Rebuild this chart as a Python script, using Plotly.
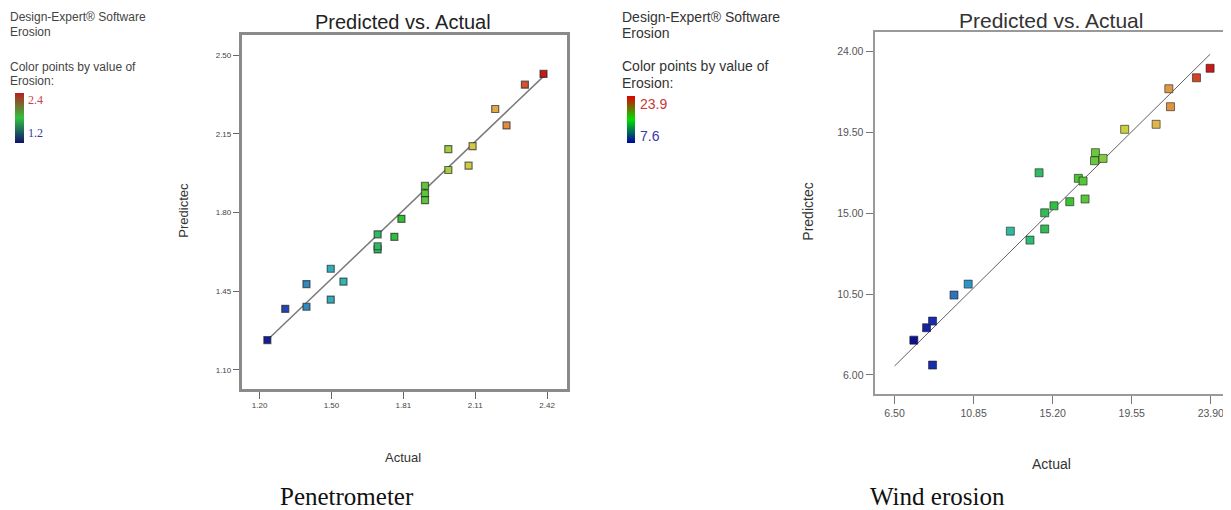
import plotly.graph_objects as go

# ---------------- data ----------------
pen_actual = [1.233, 1.309, 1.399, 1.399, 1.502, 1.502, 1.556, 1.701, 1.701, 1.701, 1.772, 1.802,
              1.902, 1.902, 1.902, 2.001, 2.001, 2.087, 2.104, 2.200, 2.248, 2.326, 2.405]
pen_pred = [1.233, 1.372, 1.482, 1.381, 1.550, 1.413, 1.493, 1.703, 1.636, 1.650, 1.692, 1.772,
            1.919, 1.885, 1.855, 2.082, 1.989, 2.008, 2.095, 2.260, 2.187, 2.368, 2.416]
pen_xticks = [1.20, 1.505, 1.81, 2.115, 2.42]
pen_xtext = ["1.20", "1.50", "1.81", "2.11", "2.42"]
pen_yticks = [1.10, 1.45, 1.80, 2.15, 2.50]
pen_ytext = ["1.10", "1.45", "1.80", "2.15", "2.50"]
pen_cmin, pen_cmax = 1.2, 2.4

wind_actual = [7.56, 8.26, 8.59, 8.59, 9.77, 10.55, 12.87, 13.95, 14.45, 14.76, 14.76, 15.27, 16.14,
               16.61, 16.87, 16.98, 17.55, 17.50, 17.97, 19.16, 20.89, 21.59, 21.68, 23.11, 23.86]
wind_pred = [7.94, 8.63, 9.00, 6.55, 10.45, 11.06, 14.01, 13.51, 17.26, 15.03, 14.13, 15.42, 15.65,
             16.95, 16.80, 15.80, 18.38, 17.93, 18.06, 19.68, 19.96, 21.94, 20.94, 22.55, 23.08]
wind_xticks = [6.50, 10.85, 15.20, 19.55, 23.90]
wind_xtext = ["6.50", "10.85", "15.20", "19.55", "23.90"]
wind_yticks = [6.00, 10.50, 15.00, 19.50, 24.00]
wind_ytext = ["6.00", "10.50", "15.00", "19.50", "24.00"]
wind_cmin, wind_cmax = 7.6, 23.9

point_scale = [[0.0, "#10108a"], [0.07, "#1a30b0"], [0.13, "#3070b8"], [0.2, "#30a0c8"],
               [0.3, "#30b8b0"], [0.4, "#30b870"], [0.5, "#30c030"], [0.62, "#70c840"],
               [0.7, "#c8d040"], [0.8, "#e0c050"], [0.87, "#e09040"], [1.0, "#c81818"]]
left_bar_scale = [[0.0, "#101070"], [0.5, "#30c040"], [1.0, "#b82020"]]
right_bar_scale = [[0.0, "#0000a8"], [0.5, "#00e000"], [1.0, "#e00000"]]

# page offset (body margin 8px) -> map reference pixel coords into figure coords
OFF = 8
W, H = 1231 - OFF, 510 - OFF
def px(x): return (x - OFF) / W
def py(y): return 1 - (y - OFF) / H

fig = go.Figure()

# fit lines (y = x)
pl = [min(pen_actual), max(pen_actual)]
fig.add_trace(go.Scatter(x=pl, y=pl, mode="lines", line=dict(color="#7a7a7a", width=1.5),
                         xaxis="x", yaxis="y", showlegend=False, hoverinfo="skip"))
wl = [wind_xticks[0], max(wind_actual)]
fig.add_trace(go.Scatter(x=wl, y=wl, mode="lines", line=dict(color="#606060", width=1),
                         xaxis="x2", yaxis="y2", showlegend=False, hoverinfo="skip"))

fig.add_trace(go.Scatter(x=pen_actual, y=pen_pred, mode="markers", xaxis="x", yaxis="y",
                         marker=dict(symbol="square", size=7, color=pen_actual, coloraxis="coloraxis",
                                     line=dict(color="rgba(30,30,30,0.65)", width=1.2)),
                         showlegend=False))
fig.add_trace(go.Scatter(x=wind_actual, y=wind_pred, mode="markers", xaxis="x2", yaxis="y2",
                         marker=dict(symbol="square", size=8, color=wind_actual, coloraxis="coloraxis2",
                                     line=dict(color="rgba(30,30,30,0.6)", width=1)),
                         showlegend=False))

# legend gradient bars (empty traces that only carry the colour range)
fig.add_trace(go.Scatter(x=[None, None], y=[None, None], mode="markers", xaxis="x", yaxis="y",
                         marker=dict(color=[pen_cmin, pen_cmax], coloraxis="coloraxis3"),
                         showlegend=False, hoverinfo="skip"))
fig.add_trace(go.Scatter(x=[None, None], y=[None, None], mode="markers", xaxis="x2", yaxis="y2",
                         marker=dict(color=[wind_cmin, wind_cmax], coloraxis="coloraxis4"),
                         showlegend=False, hoverinfo="skip"))

axis_common = dict(showgrid=False, zeroline=False, ticks="outside", mirror=True, showline=True)

def cbar(x, y, length, thick):
    return dict(x=px(x), xanchor="left", y=py(y), yanchor="middle",
                lenmode="pixels", len=length, thickness=thick, outlinewidth=0,
                showticklabels=False, ticks="", xpad=0, ypad=0)

fig.update_layout(
    width=W, height=H, margin=dict(l=0, r=0, t=0, b=0),
    paper_bgcolor="white", plot_bgcolor="white",
    font=dict(family="Liberation Sans, Arial, sans-serif", color="#333"),
    xaxis=dict(domain=[px(242), px(568)], range=[1.1238, 2.505], tickvals=pen_xticks, ticktext=pen_xtext,
               linecolor="#8a8a8a", linewidth=2.5, ticklen=7, tickcolor="#666", tickfont=dict(size=8, color="#444"),
               anchor="y", **axis_common),
    yaxis=dict(domain=[py(389), py(35)], range=[1.0155, 2.589], tickvals=pen_yticks, ticktext=pen_ytext,
               linecolor="#8a8a8a", linewidth=2.5, ticklen=6, tickcolor="#666", tickfont=dict(size=8, color="#444"),
               anchor="x", **axis_common),
    xaxis2=dict(domain=[px(876), 1.0], range=[5.40, 24.90], tickvals=wind_xticks, ticktext=wind_xtext,
                linecolor="#999999", linewidth=2, ticklen=8, tickcolor="#777", tickfont=dict(size=10.5, color="#555"),
                anchor="y2", **axis_common),
    yaxis2=dict(domain=[py(394), py(32)], range=[4.94, 25.10], tickvals=wind_yticks, ticktext=wind_ytext,
                linecolor="#999999", linewidth=2, ticklen=7, tickcolor="#777", tickfont=dict(size=10.5, color="#555"),
                anchor="x2", **axis_common),
    coloraxis=dict(cmin=pen_cmin, cmax=pen_cmax, colorscale=point_scale, showscale=False),
    coloraxis2=dict(cmin=wind_cmin, cmax=wind_cmax, colorscale=point_scale, showscale=False),
    coloraxis3=dict(cmin=pen_cmin, cmax=pen_cmax, colorscale=left_bar_scale, colorbar=cbar(15, 118, 50, 9)),
    coloraxis4=dict(cmin=wind_cmin, cmax=wind_cmax, colorscale=right_bar_scale, colorbar=cbar(628, 120, 47, 8)),
)

ann = []
def A(text, x, y, size, color="#333", xanchor="left", family=None, angle=0, yanchor="middle"):
    d = dict(text=text, x=px(x), y=py(y), xref="paper", yref="paper", showarrow=False,
             xanchor=xanchor, yanchor=yanchor, borderpad=0, font=dict(size=size, color=color), textangle=angle)
    if family:
        d["font"]["family"] = family
    ann.append(d)

# left legend
A("Design-Expert® Software", 9, 17, 12, "#444")
A("Erosion", 9, 32, 12, "#444")
A("Color points by value of", 9, 67, 12, "#444")
A("Erosion:", 9, 81, 12, "#444")
A("2.4", 27, 100, 12, "#c04848", family="Liberation Serif")
A("1.2", 27, 133, 12, "#3838a0", family="Liberation Serif")

# right legend
A("Design-Expert® Software", 622, 17, 14, "#333")
A("Erosion", 622, 33, 14, "#333")
A("Color points by value of", 622, 66, 14, "#333")
A("Erosion:", 622, 83, 14, "#333")
A("23.9", 640, 104, 14, "#c83838")
A("7.6", 640, 136, 14, "#3838a8")

# titles
A("Predicted vs. Actual", 404, 22, 20, "#222", xanchor="center")
A("Predicted vs. Actual", 1053, 21, 21, "#333", xanchor="center")

# axis titles
A("Predictec", 183, 210, 13, "#333", xanchor="center", angle=-90)
A("Actual", 404, 457, 13, "#333", xanchor="center")
A("Predictec", 809, 212, 14, "#333", xanchor="center", angle=-90)
A("Actual", 1053, 464, 14, "#333", xanchor="center")

# captions
A("Penetrometer", 348, 496, 25, "#111", xanchor="center", family="Liberation Serif")
A("Wind erosion", 939, 496, 25, "#111", xanchor="center", family="Liberation Serif")

fig.update_layout(annotations=ann)

fig.write_html("out.html")
